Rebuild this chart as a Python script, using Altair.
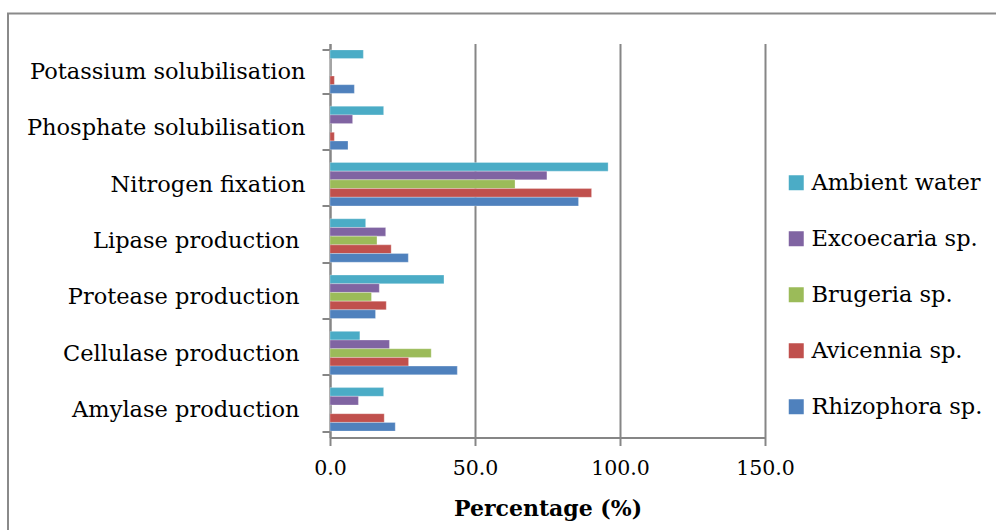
import altair as alt
import pandas as pd

# Screening results: share of isolates positive for each activity
activities = [
    "Potassium solubilisation",
    "Phosphate solubilisation",
    "Nitrogen fixation",
    "Lipase production",
    "Protease production",
    "Cellulase production",
    "Amylase production",
]
sources = ["Ambient water", "Excoecaria sp.", "Brugeria sp.", "Avicennia sp.", "Rhizophora sp."]
colors = ["#4BACC6", "#8064A2", "#9BBB59", "#C0504D", "#4F81BD"]

ambient_water = [11.5, 18.5, 95.9, 12.3, 39.3, 10.3, 18.5]
excoecaria = [0.0, 7.8, 74.8, 19.2, 17.0, 20.5, 9.8]
brugeria = [0.0, 0.0, 63.8, 16.2, 14.3, 34.9, 0.0]
avicennia = [1.5, 1.5, 90.2, 21.1, 19.4, 27.1, 18.7]
rhizophora = [8.4, 6.2, 85.7, 27.0, 15.7, 43.9, 22.5]

series = [ambient_water, excoecaria, brugeria, avicennia, rhizophora]
rows = []
for src, vals in zip(sources, series):
    for act, v in zip(activities, vals):
        rows.append({"Activity": act, "Source": src, "Percentage": v})
df = pd.DataFrame(rows)

W, H = 435, 394
FONT = "DejaVu Serif"
GRAY = "#868686"

bars = alt.Chart(df).mark_bar(stroke="#ffffff", strokeOpacity=0.35, strokeWidth=0.8).encode(
    x=alt.X(
        "Percentage:Q",
        scale=alt.Scale(domain=[0, 150], nice=False),
        axis=alt.Axis(
            values=[0, 50, 100, 150],
            format=".1f",
            title="Percentage (%)",
            grid=True,
            gridColor=GRAY,
            gridWidth=2,
            domainColor=GRAY,
            domainWidth=2,
            tickColor=GRAY,
            tickWidth=2,
            tickSize=8,
            labelFlush=False,
            labelFont=FONT,
            labelFontSize=20.5,
            labelColor="#000000",
            labelPadding=13,
            titleFont=FONT,
            titleFontSize=22,
            titleFontWeight="bold",
            titleColor="#000000",
            titlePadding=19,
        ),
    ),
    y=alt.Y(
        "Activity:N",
        sort=activities,
        scale=alt.Scale(paddingInner=0.227, paddingOuter=0.1135),
        axis=alt.Axis(
            title=None,
            tickBand="extent",
            domainColor=GRAY,
            domainWidth=2,
            tickColor=GRAY,
            tickWidth=2,
            tickSize=8,
            labelFont=FONT,
            labelFontSize=22.5,
            labelColor="#000000",
            labelPadding={
                "condition": {"test": "indexof(datum.label, 'production') >= 0", "value": 23},
                "value": 17,
            },
            labelLimit=400,
        ),
    ),
    yOffset=alt.YOffset("Source:N", sort=sources, scale=alt.Scale(paddingInner=0, paddingOuter=0)),
    color=alt.Color(
        "Source:N",
        sort=sources,
        scale=alt.Scale(domain=sources, range=colors),
        legend=alt.Legend(
            title=None,
            orient="none",
            legendX=455,
            legendY=128,
            symbolType="square",
            symbolSize=225,
            symbolStrokeWidth=0,
            labelFont=FONT,
            labelFontSize=22.5,
            labelColor="#000000",
            labelOffset=4,
            rowPadding=33,
            padding=0,
            labelLimit=300,
        ),
    ),
)

# outer chart frame
frame = alt.Chart(pd.DataFrame({"f": [0]})).mark_rect(
    fill=None, stroke="#8a8a8a", strokeWidth=2
).encode(
    x=alt.value(-322),
    x2=alt.value(W + 400),
    y=alt.value(-30),
    y2=alt.value(H + 200),
)

chart = (
    alt.layer(frame, bars)
    .properties(
        width=W,
        height=H,
        autosize=alt.AutoSizeParams(type="none"),
        padding={"left": 330, "top": 43.5, "right": 996 - 330 - W, "bottom": 530 - 43.5 - H},
        background="#ffffff",
    )
    .configure_view(stroke=None)
)

chart.save("out.html", embed_options={"renderer": "svg", "actions": False})
